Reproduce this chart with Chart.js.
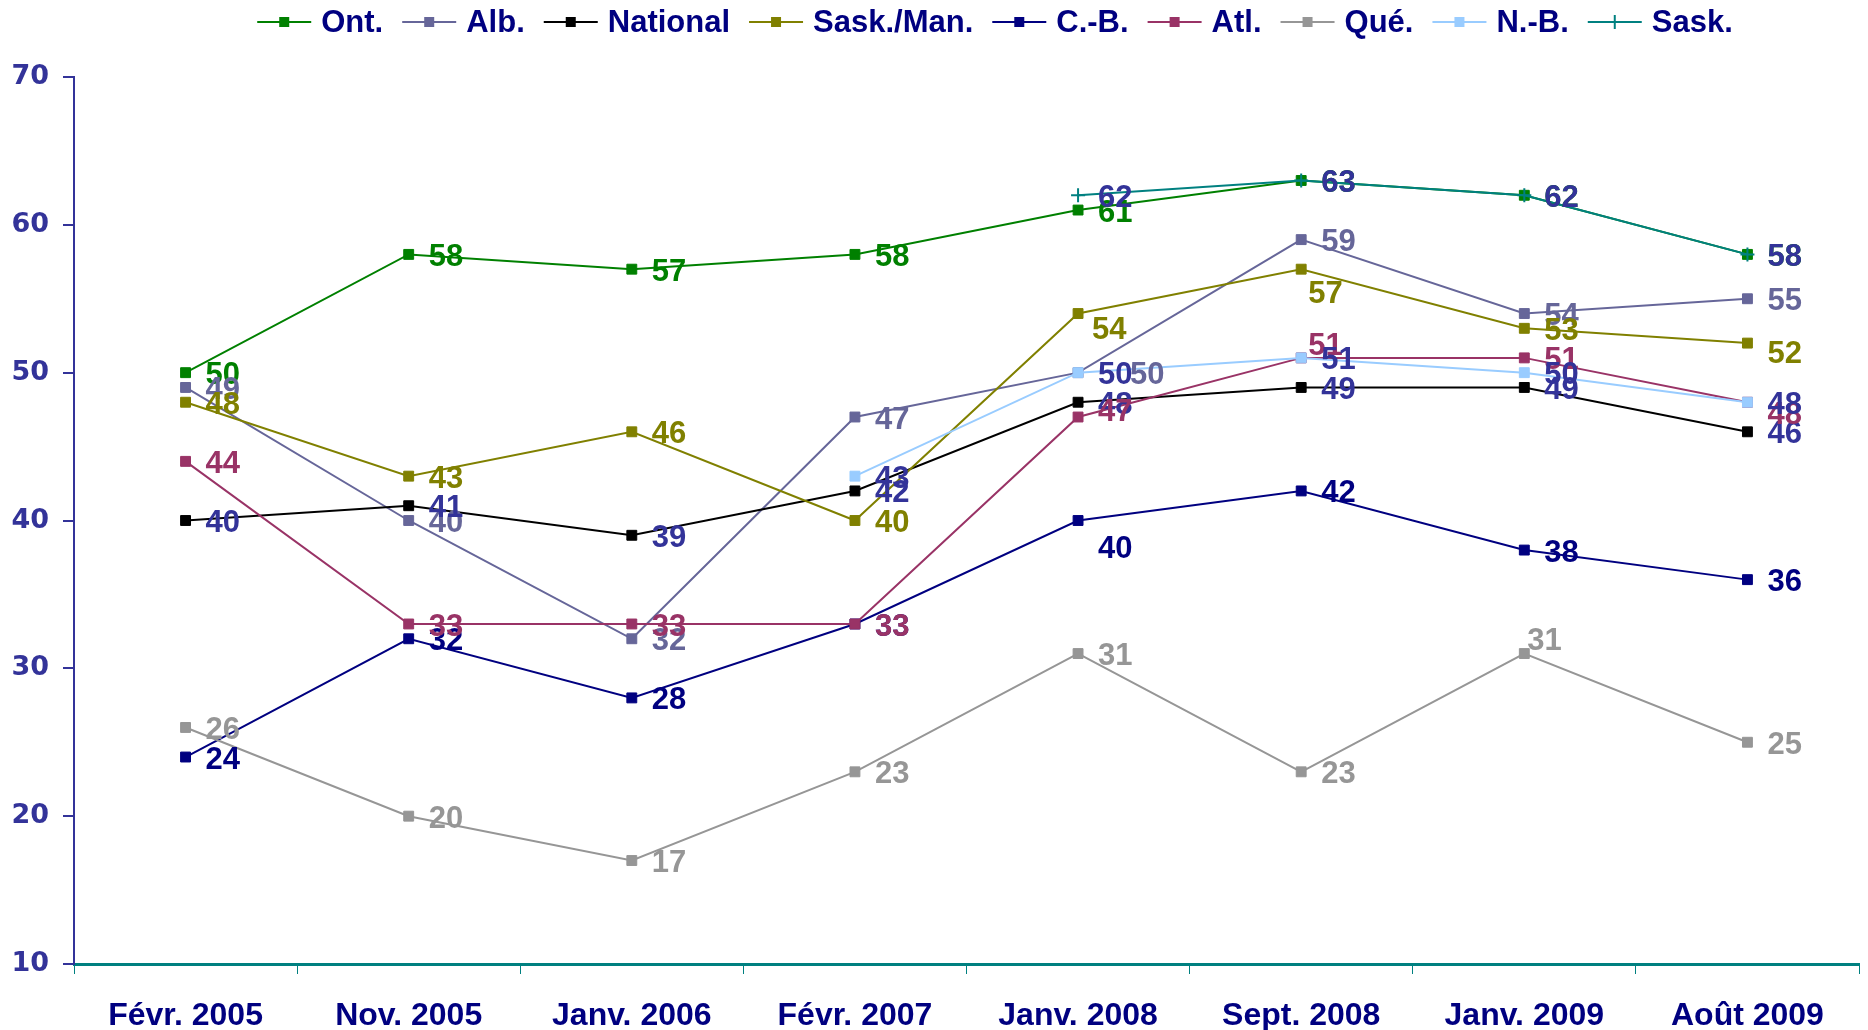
<!DOCTYPE html>
<html>
<head>
<meta charset="utf-8">
<script src="https://cdn.jsdelivr.net/npm/chart.js@4.4.1/dist/chart.umd.min.js"></script>
<style>
  html, body { margin: 0; padding: 0; background: #fff; }
</style>
</head>
<body>
<canvas id="trendChart" width="1868" height="1030"></canvas>
<script>
// periods and series values
var periods = ['Févr. 2005', 'Nov. 2005', 'Janv. 2006', 'Févr. 2007', 'Janv. 2008', 'Sept. 2008', 'Janv. 2009', 'Août 2009'];
var seriesNames = ['Ont.', 'Alb.', 'National', 'Sask./Man.', 'C.-B.', 'Atl.', 'Qué.', 'N.-B.', 'Sask.'];
var ont      = [50, 58, 57, 58, 61, 63, 62, 58];
var alb      = [49, 40, 32, 47, 50, 59, 54, 55];
var national = [40, 41, 39, 42, 48, 49, 49, 46];
var saskMan  = [48, 43, 46, 40, 54, 57, 53, 52];
var cb       = [24, 32, 28, 33, 40, 42, 38, 36];
var atl      = [44, 33, 33, 33, 47, 51, 51, 48];
var que      = [26, 20, 17, 23, 31, 23, 31, 25];
var nb       = [null, null, null, 43, 50, 51, 50, 48];
var sask     = [null, null, null, null, 62, 63, 62, 58];
var yTicks   = [10, 20, 30, 40, 50, 60, 70];

var seriesValues = [ont, alb, national, saskMan, cb, atl, que, nb, sask];
var lineColors  = ['#008000', '#666699', '#000000', '#808000', '#000080', '#993366', '#969696', '#99ccff', '#008080'];
var labelColors = ['#008000', '#666699', '#333399', '#808000', '#000080', '#993366', '#969696', '#333399', '#333399'];

// label nudges where the original moved a value label off its point: [series, point, dx, dy]
var labelNudges = [
  [3, 4, -6, 14], [3, 5, -13, 22], [3, 7, 0, 8],
  [4, 4, 0, 26],
  [5, 4, 0, -8], [5, 5, -13, -14], [5, 7, 0, 10],
  [1, 4, 32, 0],
  [6, 6, -17, -15]
];

var FONT = '"Liberation Sans", Arial, sans-serif';

var datasets = seriesNames.map(function(name, i) {
  var isSask = name === 'Sask.';
  return {
    label: name,
    data: seriesValues[i],
    borderColor: lineColors[i],
    backgroundColor: lineColors[i],
    pointBackgroundColor: lineColors[i],
    pointBorderColor: lineColors[i],
    borderWidth: 2,
    pointStyle: isSask ? 'cross' : 'rect',
    pointRadius: 7,
    pointBorderWidth: isSask ? 2 : 1,
    pointHoverRadius: 7,
    tension: 0,
    spanGaps: false,
    order: seriesNames.length - i,
    labelColor: labelColors[i]
  };
});

function nudgeFor(di, pi) {
  for (var k = 0; k < labelNudges.length; k++) {
    if (labelNudges[k][0] === di && labelNudges[k][1] === pi) return labelNudges[k];
  }
  return null;
}

var valueLabels = {
  id: 'valueLabels',
  afterDatasetsDraw: function(chart) {
    var ctx = chart.ctx;
    ctx.save();
    ctx.font = 'bold 31px ' + FONT;
    ctx.textAlign = 'left';
    ctx.textBaseline = 'middle';
    chart.data.datasets.forEach(function(ds, di) {
      var meta = chart.getDatasetMeta(di);
      meta.data.forEach(function(pt, pi) {
        var v = ds.data[pi];
        if (v === null || v === undefined) return;
        var n = nudgeFor(di, pi);
        var dx = 20 + (n ? n[2] : 0);
        var dy = 3 + (n ? n[3] : 0);
        ctx.fillStyle = ds.labelColor;
        ctx.fillText(String(v), pt.x + dx, pt.y + dy);
      });
    });
    ctx.restore();
  }
};

var lineLegend = {
  id: 'lineLegend',
  afterDraw: function(chart) {
    var ctx = chart.ctx;
    var items = chart.data.datasets;
    var sample = 54, gap = 10, space = 19;
    ctx.save();
    ctx.font = 'bold 31px ' + FONT;
    var total = 0;
    items.forEach(function(ds, i) {
      total += sample + gap + ctx.measureText(ds.label).width + (i < items.length - 1 ? space : 0);
    });
    var x = 995 - total / 2;
    var y = 22;
    items.forEach(function(ds) {
      ctx.strokeStyle = ds.borderColor;
      ctx.lineWidth = 2;
      ctx.beginPath();
      ctx.moveTo(x, y);
      ctx.lineTo(x + sample, y);
      ctx.stroke();
      var cx = x + sample / 2;
      if (ds.pointStyle === 'cross') {
        ctx.beginPath();
        ctx.moveTo(cx, y - 7);
        ctx.lineTo(cx, y + 7);
        ctx.stroke();
      } else {
        ctx.fillStyle = ds.borderColor;
        ctx.fillRect(cx - 5, y - 5, 10, 10);
      }
      x += sample + gap;
      ctx.fillStyle = '#000080';
      ctx.textAlign = 'left';
      ctx.textBaseline = 'middle';
      ctx.fillText(ds.label, x, y + 1);
      x += ctx.measureText(ds.label).width + space;
    });
    ctx.restore();
  }
};

var ctx = document.getElementById('trendChart').getContext('2d');
var trendChart = new Chart(ctx, {
  type: 'line',
  data: { labels: periods, datasets: datasets },
  options: {
    responsive: false,
    animation: false,
    layout: { padding: { top: 77, right: 4, left: 0, bottom: 0 } },
    plugins: {
      legend: { display: false },
      tooltip: { enabled: false }
    },
    scales: {
      x: {
        offset: true,
        grid: { offset: true, drawOnChartArea: false, tickLength: 10, color: '#008080', lineWidth: 1 },
        border: { color: '#008080', width: 3 },
        ticks: {
          color: '#000080',
          font: { family: FONT, size: 32, weight: 'bold' },
          padding: 23,
          maxRotation: 0,
          autoSkip: false
        },
        afterFit: function(scale) { scale.height = 66; }
      },
      y: {
        min: yTicks[0],
        max: yTicks[yTicks.length - 1],
        afterBuildTicks: function(scale) {
          scale.ticks = yTicks.map(function(v) { return { value: v }; });
        },
        grid: { drawOnChartArea: false, tickLength: 11, color: '#333399', lineWidth: 2 },
        border: { color: '#333399', width: 2 },
        ticks: {
          color: '#333399',
          font: { family: '"DejaVu Sans", Verdana, sans-serif', size: 27, weight: 'bold' },
          padding: 14
        },
        afterFit: function(scale) { scale.width = 74; }
      }
    }
  },
  plugins: [valueLabels, lineLegend]
});
</script>
</body>
</html>
